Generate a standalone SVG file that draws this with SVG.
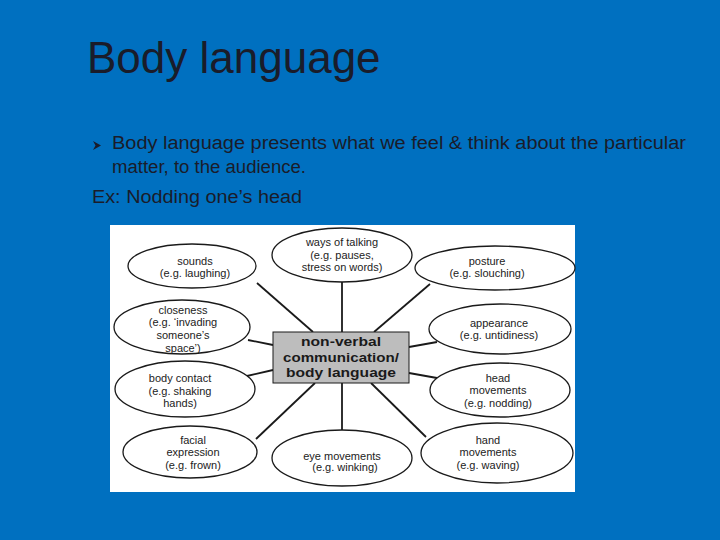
<svg xmlns="http://www.w3.org/2000/svg" width="720" height="540" viewBox="0 0 720 540">
<style>
.t{font-family:"Liberation Sans",Arial,sans-serif;fill:#1a1c2a}
.n{font-family:"Liberation Sans",Arial,sans-serif;font-size:11px;fill:#222;text-anchor:middle}
.b{font-family:"Liberation Sans",Arial,sans-serif;font-size:13.5px;font-weight:bold;fill:#1a1a1a;text-anchor:middle}
ellipse{fill:#fff;stroke:#1a1a1a;stroke-width:1.3}
.c line{stroke:#1a1a1a;stroke-width:1.8}
</style>
<rect x="0" y="0" width="720" height="540" fill="#0070c0"/>
<text class="t" x="87" y="73" font-size="44">Body language</text>
<polygon points="93,141 101,145.5 93,150 95.5,145.5" fill="#1a1c2a"/>
<text class="t" x="112" y="149" font-size="18" textLength="574" lengthAdjust="spacingAndGlyphs">Body language presents what we feel &amp; think about the particular</text>
<text class="t" x="112" y="173" font-size="18" textLength="194" lengthAdjust="spacingAndGlyphs">matter, to the audience.</text>
<text class="t" x="92" y="203" font-size="18" textLength="210" lengthAdjust="spacingAndGlyphs">Ex: Nodding one’s head</text>
<rect x="110" y="225" width="465" height="267" fill="#fff"/>
<g class="c" id="connectors">
<line x1="257" y1="283" x2="313" y2="332"/>
<line x1="248" y1="340" x2="273" y2="345"/>
<line x1="342" y1="282" x2="342" y2="332"/>
<line x1="430" y1="284" x2="374" y2="332"/>
<line x1="437" y1="342" x2="409" y2="347"/>
<line x1="247" y1="376" x2="273" y2="370"/>
<line x1="256" y1="439" x2="315" y2="383"/>
<line x1="342" y1="383" x2="342" y2="430"/>
<line x1="437" y1="378" x2="409" y2="373"/>
<line x1="426" y1="437" x2="371" y2="383"/>
</g>
<g id="ways"><ellipse cx="342" cy="255" rx="70" ry="27"/>
<text class="n" x="342" y="246">ways of talking</text><text class="n" x="342" y="259">(e.g. pauses,</text><text class="n" x="342" y="271">stress on words)</text></g>
<g id="sounds"><ellipse cx="192" cy="266" rx="64" ry="22"/>
<text class="n" x="195" y="265">sounds</text><text class="n" x="195" y="277">(e.g. laughing)</text></g>
<g id="posture"><ellipse cx="495" cy="268" rx="80" ry="22"/>
<text class="n" x="487" y="265">posture</text><text class="n" x="487" y="277">(e.g. slouching)</text></g>
<g id="closeness"><ellipse cx="182" cy="327" rx="68" ry="27"/>
<text class="n" x="183" y="314">closeness</text><text class="n" x="183" y="326">(e.g. ‘invading</text><text class="n" x="183" y="339">someone’s</text><text class="n" x="183" y="352">space’)</text></g>
<g id="appearance"><ellipse cx="500" cy="329" rx="71" ry="25"/>
<text class="n" x="499" y="327">appearance</text><text class="n" x="499" y="339">(e.g. untidiness)</text></g>
<g id="center"><rect x="273" y="332" width="136" height="51" fill="#bdbdbd" stroke="#1a1a1a" stroke-width="1"/>
<text class="b" x="341" y="346" textLength="80" lengthAdjust="spacingAndGlyphs">non-verbal</text><text class="b" x="341" y="362" textLength="116" lengthAdjust="spacingAndGlyphs">communication/</text><text class="b" x="341" y="377" textLength="110" lengthAdjust="spacingAndGlyphs">body language</text></g>
<g id="bodycontact"><ellipse cx="185" cy="389" rx="70" ry="28"/>
<text class="n" x="180" y="382">body contact</text><text class="n" x="180" y="395">(e.g. shaking</text><text class="n" x="180" y="407">hands)</text></g>
<g id="head"><ellipse cx="500" cy="390" rx="70" ry="27"/>
<text class="n" x="498" y="382">head</text><text class="n" x="498" y="394">movements</text><text class="n" x="498" y="407">(e.g. nodding)</text></g>
<g id="facial"><ellipse cx="190" cy="452" rx="67" ry="26"/>
<text class="n" x="193" y="444">facial</text><text class="n" x="193" y="456">expression</text><text class="n" x="193" y="469">(e.g. frown)</text></g>
<g id="eye"><ellipse cx="342" cy="458" rx="70" ry="28"/>
<text class="n" x="342" y="460">eye movements</text><text class="n" x="345" y="471">(e.g. winking)</text></g>
<g id="hand"><ellipse cx="497" cy="453" rx="76" ry="30"/>
<text class="n" x="488" y="444">hand</text><text class="n" x="488" y="456">movements</text><text class="n" x="488" y="469">(e.g. waving)</text></g>
</svg>
